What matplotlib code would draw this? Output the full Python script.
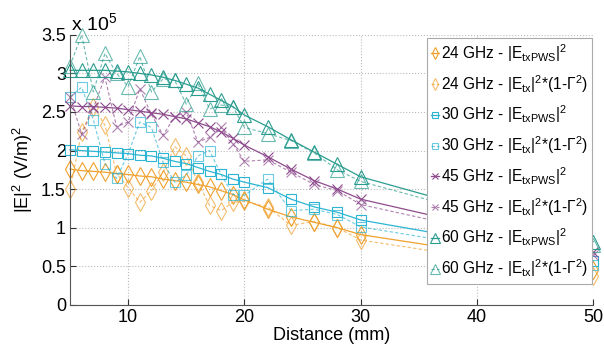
import numpy as np
import matplotlib
matplotlib.use('Agg')
import matplotlib.pyplot as plt

plt.rcParams['font.family'] = ['Liberation Sans', 'DejaVu Sans']
plt.rcParams['mathtext.default'] = 'regular'

# distance in mm, |E|^2 values in units of 1e5 (V/m)^2
dist = [5, 6, 7, 8, 9, 10, 11, 12, 13, 14, 15, 16, 17, 18, 19, 20, 22, 24, 26, 28, 30, 50]

pws_24 = [1.76, 1.74, 1.73, 1.72, 1.70, 1.69, 1.67, 1.66, 1.63, 1.61, 1.59, 1.56, 1.53, 1.48, 1.43, 1.36,
          1.24, 1.14, 1.07, 1.00, 0.91, 0.45]
tx_24 = [1.50, 2.24, 2.57, 2.33, 1.70, 1.52, 1.33, 1.48, 1.72, 2.05, 1.93, 1.59, 1.29, 1.22, 1.33, 1.34,
         1.27, 1.03, 1.08, 1.00, 0.84, 0.38]

pws_30 = [2.01, 2.00, 1.99, 1.98, 1.97, 1.96, 1.94, 1.93, 1.90, 1.86, 1.83, 1.78, 1.73, 1.69, 1.63, 1.59,
          1.52, 1.37, 1.27, 1.20, 1.10, 0.57]
tx_30 = [2.70, 2.82, 2.40, 1.83, 1.64, 1.96, 2.37, 2.30, 1.85, 1.59, 1.68, 1.93, 2.00, 1.69, 1.43, 1.42,
         1.63, 1.22, 1.24, 1.17, 1.01, 0.52]

pws_45 = [2.58, 2.57, 2.57, 2.56, 2.55, 2.53, 2.51, 2.49, 2.47, 2.44, 2.41, 2.36, 2.31, 2.24, 2.16, 2.07,
          1.92, 1.76, 1.61, 1.50, 1.37, 0.68]
tx_45 = [2.70, 2.21, 2.55, 2.95, 2.31, 2.37, 2.80, 2.47, 2.20, 2.44, 2.50, 2.11, 2.17, 2.30, 2.09, 1.86,
         1.88, 1.72, 1.56, 1.48, 1.30, 0.64]

pws_60 = [3.04, 3.04, 3.04, 3.04, 3.03, 3.02, 3.00, 2.98, 2.95, 2.91, 2.86, 2.81, 2.73, 2.65, 2.57, 2.46,
          2.31, 2.14, 1.98, 1.82, 1.66, 0.82]
tx_60 = [3.10, 3.50, 2.76, 3.26, 3.00, 2.83, 3.22, 2.76, 2.93, 2.91, 2.60, 2.87, 2.54, 2.59, 2.57, 2.30,
         2.22, 2.13, 1.97, 1.75, 1.60, 0.78]

freqs = ['24', '30', '45', '60']
colors = ['#F0A12E', '#2DB5D3', '#8E4C8E', '#2A9D8F']
markers = ['d', 's', 'x', '^']
msizes = [9, 7.5, 7, 10]
pws_all = [pws_24, pws_30, pws_45, pws_60]
tx_all = [tx_24, tx_30, tx_45, tx_60]

fig = plt.figure(figsize=(6.04, 3.52), dpi=100)
ax = fig.add_axes([0.116, 0.134, 0.866, 0.767])

for f, c, m, ms, pws, tx in zip(freqs, colors, markers, msizes, pws_all, tx_all):
    mfc = 'none' if m != 'x' else c
    ax.plot(dist, pws, color=c, lw=0.9, marker=m, ms=ms, mfc=mfc, mec=c, mew=0.8, clip_on=False,
            label=f + ' GHz - |E$_{txPWS}$|$^2$')
    ax.plot(dist, tx, color=c, lw=0.8, ls='--', dashes=(3, 2), marker=m, ms=ms, mfc=mfc, mec=c,
            mew=0.8, alpha=0.7, clip_on=False, label=f + ' GHz - |E$_{tx}$|$^2$*(1-$\\Gamma^2$)')

ax.set_xlim(5, 50)
ax.set_ylim(0, 3.5)
ax.set_xticks([10, 20, 30, 40, 50])
ax.set_yticks(np.arange(0, 3.51, 0.5))
ax.set_yticklabels(['0', '0.5', '1', '1.5', '2', '2.5', '3', '3.5'])
ax.tick_params(direction='in', length=4, labelsize=13, colors='#333333', labelcolor='black', pad=3)
ax.grid(True, ls=':', color='#BBBBBB', lw=0.8)
ax.spines['top'].set_visible(False)
ax.spines['right'].set_visible(False)
ax.spines['left'].set_color('#555555')
ax.spines['bottom'].set_color('#555555')

ax.set_xlabel('Distance (mm)', fontsize=13, labelpad=1)
ax.set_ylabel('|E|$^2$ (V/m)$^2$', fontsize=13, labelpad=4)
fig.text(0.118, 0.915, 'x 10$^5$', fontsize=14)

leg = ax.legend(loc='upper right', bbox_to_anchor=(0.998, 0.99), fontsize=11.2, handlelength=0.5,
                handletextpad=0.1, labelspacing=0.58, borderpad=0.3, borderaxespad=0.0,
                markerscale=0.65, fancybox=False, edgecolor='#AAAAAA', framealpha=1)
leg.get_frame().set_linewidth(0.8)
leg.set_zorder(5)

fig.savefig('out.png', dpi=100)
